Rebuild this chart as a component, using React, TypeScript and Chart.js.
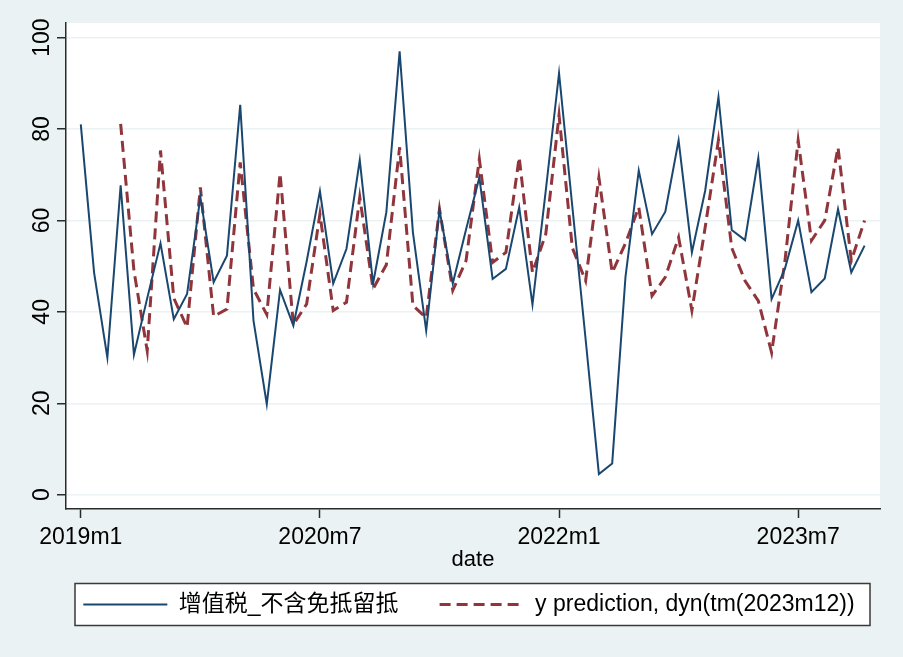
import React, { useEffect, useRef } from "react";
import { Chart, registerables } from "chart.js";

Chart.register(...registerables);

// monthly categories 2019m1 .. 2023m12
const MONTHS: string[] = [
  "2019m1", "2019m2", "2019m3", "2019m4", "2019m5", "2019m6", "2019m7", "2019m8", "2019m9", "2019m10", "2019m11", "2019m12",
  "2020m1", "2020m2", "2020m3", "2020m4", "2020m5", "2020m6", "2020m7", "2020m8", "2020m9", "2020m10", "2020m11", "2020m12",
  "2021m1", "2021m2", "2021m3", "2021m4", "2021m5", "2021m6", "2021m7", "2021m8", "2021m9", "2021m10", "2021m11", "2021m12",
  "2022m1", "2022m2", "2022m3", "2022m4", "2022m5", "2022m6", "2022m7", "2022m8", "2022m9", "2022m10", "2022m11", "2022m12",
  "2023m1", "2023m2", "2023m3", "2023m4", "2023m5", "2023m6", "2023m7", "2023m8", "2023m9", "2023m10", "2023m11", "2023m12",
];

// 增值税_不含免抵留抵 (actual)
const VAT: number[] = [
  81.0, 48.6, 30.0, 67.7, 30.6, 43.0, 55.0, 38.4, 43.9, 65.1, 46.5, 52.3,
  85.3, 38.1, 19.8, 44.8, 37.0, 51.0, 66.4, 46.2, 53.8, 73.2, 46.2, 61.8,
  97.0, 57.4, 35.9, 62.3, 46.2, 58.0, 69.4, 47.2, 49.4, 62.9, 41.6, 66.5,
  92.2, 63.0, 34.0, 4.5, 6.8, 47.6, 70.9, 57.0, 61.9, 77.5, 53.0, 66.5,
  87.0, 57.9, 55.7, 73.7, 42.8, 49.4, 60.0, 44.3, 47.3, 62.5, 48.6, 54.5,
];

// y prediction, dyn(tm(2023m12))
const PRED: (number | null)[] = [
  null, null, null, 81.1, 49.0, 31.5, 75.3, 43.0, 36.6, 67.2, 39.0, 40.6,
  72.7, 45.0, 39.4, 70.3, 37.2, 41.7, 61.4, 40.3, 42.1, 65.1, 45.0, 50.3,
  76.0, 41.4, 38.7, 62.5, 44.7, 51.2, 73.4, 50.8, 53.0, 73.8, 48.6, 57.0,
  83.0, 54.0, 46.8, 69.4, 48.6, 55.0, 62.9, 43.5, 47.6, 56.3, 40.3, 58.5,
  77.6, 54.0, 46.8, 42.4, 31.1, 51.0, 77.5, 55.6, 60.0, 76.0, 51.2, 60.0,
];

const X_TICK_LABELS: string[] = ["2019m1", "2020m7", "2022m1", "2023m7"];
const Y_TICKS: number[] = [0, 20, 40, 60, 80, 100];

const SERIES_LABELS: string[] = ["增值税_不含免抵留抵", "y prediction, dyn(tm(2023m12))"];

const FONT_FAMILY = "'Liberation Sans', Arial, 'Noto Sans CJK SC', sans-serif";
const BG = "#eaf2f3";
const NAVY = "#1a476f";
const MAROON = "#90353b";
const AXIS = "#2b2b2b";

const LEGEND_PAD = 41;
const LEGEND_FONT = 23;

export default function App() {
  const ref = useRef<HTMLCanvasElement | null>(null);

  useEffect(() => {
    const canvas = ref.current;
    if (!canvas) return;

    const framePlugin = {
      id: "stataFrame",
      afterLayout(chart: any) {
        const lg = chart.legend;
        if (lg) {
          lg.left += 29;
          lg.right += 29;
        }
      },
      beforeDraw(chart: any) {
        const { ctx, chartArea: a, legend } = chart;
        ctx.save();
        ctx.fillStyle = "#ffffff";
        ctx.fillRect(a.left, a.top, a.right - a.left, a.bottom - a.top);
        if (legend) {
          const cy = legend.top + LEGEND_PAD + LEGEND_FONT / 2;
          const x0 = a.left + 9;
          const x1 = a.right - 10;
          const y0 = cy - 21;
          const h = 42;
          ctx.fillRect(x0, y0, x1 - x0, h);
          ctx.strokeStyle = "#3a3a3a";
          ctx.lineWidth = 1.5;
          ctx.strokeRect(x0, y0, x1 - x0, h);
        }
        ctx.restore();
      },
    };

    const toPoints = (arr: (number | null)[]) => arr.map((v, i) => ({ x: i, y: v }));
    const font = { family: FONT_FAMILY, size: 23 };
    const titleFont = { family: FONT_FAMILY, size: 22 };

    const chart = new Chart(canvas, {
      type: "line",
      data: {
        datasets: [
          {
            label: SERIES_LABELS[0],
            data: toPoints(VAT) as any,
            borderColor: NAVY,
            backgroundColor: NAVY,
            borderWidth: 2,
            pointRadius: 0,
            pointHoverRadius: 0,
            tension: 0,
            fill: false,
          },
          {
            label: SERIES_LABELS[1],
            data: toPoints(PRED) as any,
            borderColor: MAROON,
            backgroundColor: MAROON,
            borderWidth: 3,
            borderDash: [11, 6],
            pointRadius: 0,
            pointHoverRadius: 0,
            tension: 0,
            fill: false,
          },
        ],
      },
      options: {
        animation: false,
        responsive: false,
        events: [],
        layout: { padding: { top: 23, right: 23, left: 0, bottom: 31 } },
        scales: {
          x: {
            type: "linear",
            min: -1.114,
            max: 60.16,
            afterBuildTicks: (s: any) => {
              s.ticks = X_TICK_LABELS.map((l) => ({ value: MONTHS.indexOf(l) }));
            },
            afterFit: (s: any) => {
              s.height = 43;
            },
            ticks: {
              callback: (v: any) => MONTHS[Number(v)],
              font,
              color: "#000",
              padding: 6,
              minRotation: 0,
              maxRotation: 0,
              autoSkip: false,
            },
            grid: {
              drawOnChartArea: false,
              drawTicks: true,
              tickLength: 9,
              tickColor: AXIS,
              tickWidth: 1.5,
            },
            border: { display: true, color: AXIS, width: 1.5 },
            title: {
              display: true,
              text: "date",
              font: titleFont,
              color: "#000",
              padding: { top: 0, bottom: -21 },
            },
          },
          y: {
            type: "linear",
            min: -3.13,
            max: 103.19,
            afterBuildTicks: (s: any) => {
              s.ticks = Y_TICKS.map((v) => ({ value: v }));
            },
            afterFit: (s: any) => {
              s.width = 66;
            },
            ticks: {
              font,
              color: "#000",
              minRotation: 90,
              maxRotation: 90,
              crossAlign: "center",
              padding: -5,
            },
            grid: {
              color: BG,
              lineWidth: 1.5,
              drawTicks: true,
              tickLength: 9,
              tickColor: AXIS,
              tickWidth: 1.5,
            },
            border: { display: true, color: AXIS, width: 1.5 },
          },
        },
        plugins: {
          legend: {
            position: "bottom",
            labels: {
              usePointStyle: true,
              pointStyleWidth: 84,
              padding: LEGEND_PAD,
              font: { family: FONT_FAMILY, size: LEGEND_FONT },
              color: "#000",
              generateLabels: (ch: any) => {
                const base = (Chart.defaults as any).plugins.legend.labels.generateLabels(ch);
                return base.map((it: any) => {
                  const ds: any = ch.data.datasets[it.datasetIndex];
                  return {
                    ...it,
                    pointStyle: "line",
                    lineDash: ds.borderDash || [],
                    lineWidth: ds.borderWidth,
                    strokeStyle: ds.borderColor,
                    fillStyle: ds.borderColor,
                  };
                });
              },
            },
          },
          tooltip: { enabled: false },
        },
      } as any,
      plugins: [framePlugin],
    });

    return () => chart.destroy();
  }, []);

  return (
    <div
      style={{
        position: "fixed",
        left: 0,
        top: 0,
        width: 903,
        height: 657,
        background: BG,
      }}
    >
      <canvas ref={ref} width={903} height={657} style={{ display: "block", width: 903, height: 657 }} />
    </div>
  );
}
